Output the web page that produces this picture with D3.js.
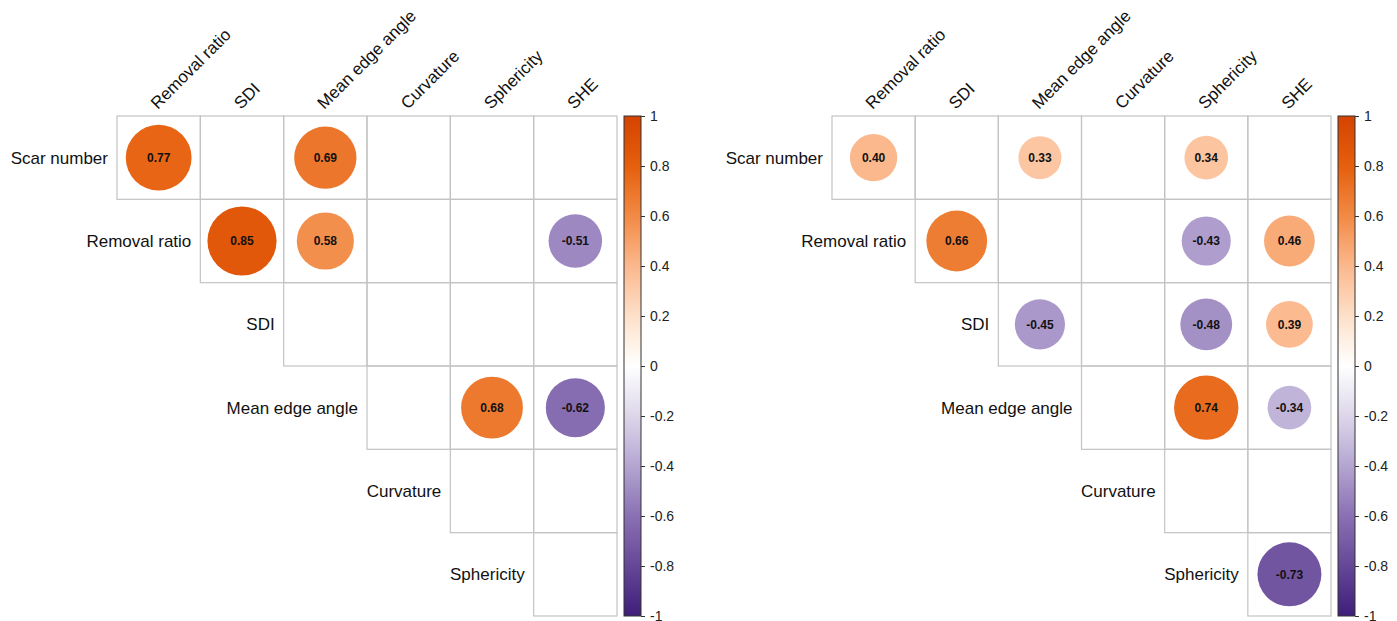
<!DOCTYPE html>
<html>
<head>
<meta charset="utf-8">
<script src="https://cdn.jsdelivr.net/npm/d3@7"></script>
<style>
  body { margin: 0; background: #fff; }
  text { font-family: "Liberation Sans", Arial, sans-serif; }
</style>
</head>
<body>
<div id="chart"></div>
<script>
// row / column labels shared by both panels
var rowLabels = ['Scar number', 'Removal ratio', 'SDI', 'Mean edge angle', 'Curvature', 'Sphericity'];
var colLabels = ['Removal ratio', 'SDI', 'Mean edge angle', 'Curvature', 'Sphericity', 'SHE'];

// correlations, null = not shown (non significant), undefined = lower triangle
var leftValues = [
    [0.77, null, 0.69, null, null, null],
    [undefined, 0.85, 0.58, null, null, -0.51],
    [undefined, undefined, null, null, null, null],
    [undefined, undefined, undefined, null, 0.68, -0.62],
    [undefined, undefined, undefined, undefined, null, null],
    [undefined, undefined, undefined, undefined, undefined, null]
];
var rightValues = [
    [0.40, null, 0.33, null, 0.34, null],
    [undefined, 0.66, null, null, -0.43, 0.46],
    [undefined, undefined, -0.45, null, -0.48, 0.39],
    [undefined, undefined, undefined, null, 0.74, -0.34],
    [undefined, undefined, undefined, undefined, null, null],
    [undefined, undefined, undefined, undefined, undefined, -0.73]
];
var legendTicks = [1, 0.8, 0.6, 0.4, 0.2, 0, -0.2, -0.4, -0.6, -0.8, -1];

var width = 1397;
var height = 621;

var svg = d3.select('#chart')
    .append('svg')
    .attr('width', width)
    .attr('height', height);

var color = d3.scaleLinear()
    .domain([-1, -0.8, -0.6, -0.4, -0.2, 0, 0.2, 0.4, 0.6, 0.8, 1])
    .range(['#3e1e7a', '#654797', '#8a70b3', '#b4a5d1', '#ddd6ea', '#ffffff',
            '#fde0c9', '#fbb88d', '#f28a45', '#e55f0d', '#d54300']);

var defs = svg.append('defs');
var grad = defs.append('linearGradient')
    .attr('id', 'cbar')
    .attr('x1', 0).attr('y1', 1).attr('x2', 0).attr('y2', 0);
grad.selectAll('stop')
    .data(d3.range(0, 21))
    .enter()
    .append('stop')
    .attr('offset', (d) => (d / 20))
    .attr('stop-color', (d) => color(-1 + d / 10));

function drawPanel(values, x0, w) {
    var top = 116;
    var h = 500;
    var g = svg.append('g');

    var x = d3.scaleBand().domain(colLabels).range([x0, x0 + w]);
    var y = d3.scaleBand().domain(rowLabels).range([top, top + h]);
    var r = d3.scaleSqrt().domain([0, 1]).range([0, 0.45 * x.bandwidth()]);

    var cells = [];
    values.forEach((row, i) => {
        row.forEach((v, j) => {
            if (v !== undefined) cells.push({ row: rowLabels[i], col: colLabels[j], v: v });
        });
    });

    // grid
    g.selectAll('rect.cell')
        .data(cells)
        .enter()
        .append('rect')
        .attr('class', 'cell')
        .attr('x', (d) => x(d.col))
        .attr('y', (d) => y(d.row))
        .attr('width', x.bandwidth())
        .attr('height', y.bandwidth())
        .attr('fill', 'none')
        .attr('stroke', '#c4c4c4')
        .attr('stroke-width', 1.2);

    var shown = cells.filter((d) => d.v !== null);

    g.selectAll('circle')
        .data(shown)
        .enter()
        .append('circle')
        .attr('cx', (d) => x(d.col) + x.bandwidth() / 2)
        .attr('cy', (d) => y(d.row) + y.bandwidth() / 2)
        .attr('r', (d) => r(Math.abs(d.v)))
        .attr('fill', (d) => color(d.v));

    g.selectAll('text.val')
        .data(shown)
        .enter()
        .append('text')
        .attr('class', 'val')
        .attr('x', (d) => x(d.col) + x.bandwidth() / 2)
        .attr('y', (d) => y(d.row) + y.bandwidth() / 2)
        .attr('dy', '0.35em')
        .attr('text-anchor', 'middle')
        .attr('font-size', 12)
        .attr('font-weight', 'bold')
        .attr('fill', '#111')
        .text((d) => d.v.toFixed(2));

    // row labels, staircase
    g.selectAll('text.rowlab')
        .data(rowLabels)
        .enter()
        .append('text')
        .attr('class', 'rowlab')
        .attr('x', (d, i) => x(colLabels[i]) - 9)
        .attr('y', (d) => y(d) + y.bandwidth() / 2)
        .attr('dy', '0.35em')
        .attr('text-anchor', 'end')
        .attr('font-size', 17)
        .attr('fill', '#111')
        .text((d) => d);

    // column labels, rotated
    g.selectAll('text.collab')
        .data(colLabels)
        .enter()
        .append('text')
        .attr('class', 'collab')
        .attr('transform', (d) => 'translate(' + (x(d) + x.bandwidth() / 2 - 1) + ',' + (top - 6) + ') rotate(-45)')
        .attr('font-size', 17)
        .attr('fill', '#111')
        .text((d) => d);

    // colour bar
    var cbX = x0 + w + 7;
    var cbW = 17;
    var cy = d3.scaleLinear().domain([-1, 1]).range([top + h, top]);
    g.append('rect')
        .attr('x', cbX)
        .attr('y', top)
        .attr('width', cbW)
        .attr('height', h)
        .attr('fill', 'url(#cbar)')
        .attr('stroke', '#333')
        .attr('stroke-width', 1);

    var axis = d3.axisRight(cy)
        .tickValues(legendTicks)
        .tickSize(4)
        .tickPadding(5)
        .tickFormat((d) => String(Math.round(d * 10) / 10));
    var ax = g.append('g')
        .attr('transform', 'translate(' + (cbX + cbW) + ',0)')
        .call(axis);
    ax.select('.domain').remove();
    ax.selectAll('line').attr('stroke', '#333');
    ax.selectAll('text')
        .attr('font-size', 14)
        .attr('fill', '#222')
        .style('font-family', '"Liberation Sans", Arial, sans-serif');
}

drawPanel(leftValues, 117, 500);
drawPanel(rightValues, 832, 499);
</script>
</body>
</html>
